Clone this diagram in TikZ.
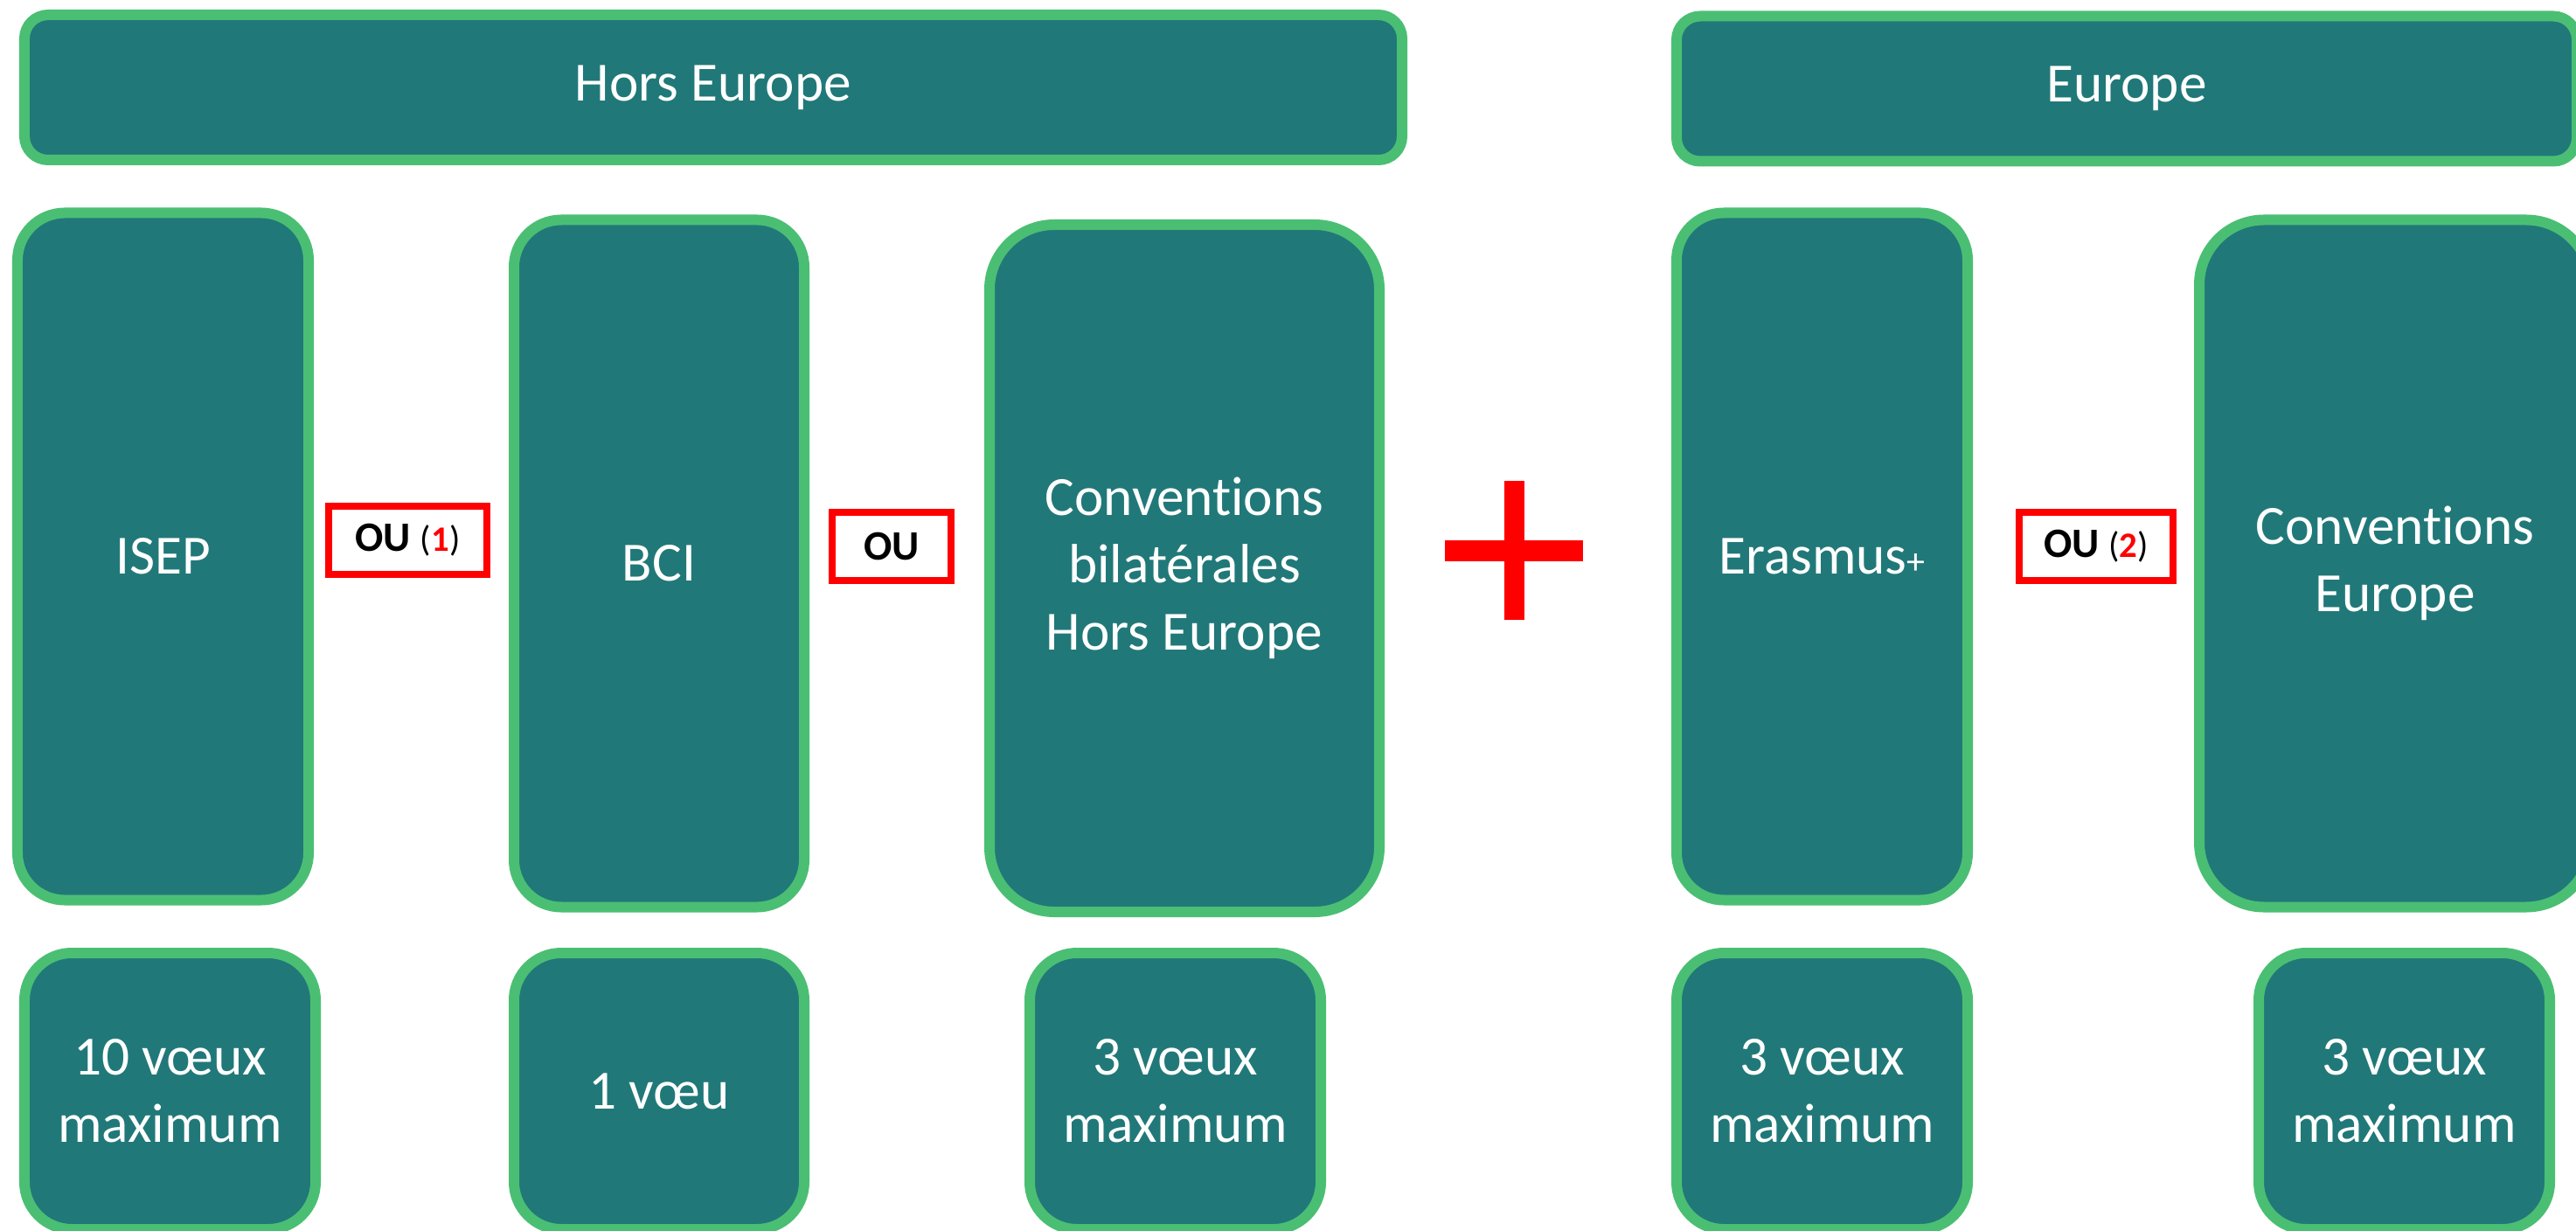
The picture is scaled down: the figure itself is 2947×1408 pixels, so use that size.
\documentclass[tikz,border=0pt]{standalone}
\usepackage{fontspec}
\setmainfont{Carlito}[Ligatures=NoCommon]
\definecolor{boxfill}{HTML}{217879}
\definecolor{boxline}{HTML}{4ABF73}
\definecolor{ored}{HTML}{FF0000}
\begin{document}
\begin{tikzpicture}[x=1bp,y=-1bp,
  box/.style={draw=boxline, line width=12bp, fill=boxfill, text=white, align=center,
    inner sep=0pt, outer sep=0pt, font=\fontsize{63.5}{77}\selectfont},
  headbox/.style={box, minimum height=166bp, rounded corners=27bp},
  tallbox/.style={box, minimum height=786bp, rounded corners=54bp},
  widebox/.style={box, minimum height=786bp, rounded corners=74bp},
  countbox/.style={box, minimum width=333bp, minimum height=316bp, rounded corners=54bp},
  oubox/.style={draw=ored, line width=8bp, fill=white, text=black, inner sep=0pt,
    minimum height=78bp, font=\fontsize{48}{58}\selectfont\bfseries},
 ]
\useasboundingbox (0,0) rectangle (2947,1408);
% headers
\node[headbox, minimum width=1576bp] (hors) at (816,100) {Hors Europe};
\node[headbox, minimum width=1030bp] (europe) at (2433,101.5) {Europe};
% programme boxes
\node[tallbox, minimum width=333bp] (isep) at (186.5,636.5) {ISEP};
\node[tallbox, minimum width=332bp] (bci) at (754,644.5) {BCI};
\node[widebox, minimum width=446bp] (conv) at (1355,650) {Conventions\\bilatérales\\Hors Europe};
\node[tallbox, minimum width=333bp] (erasmus) at (2084.5,636.5) {Erasmus{\fontsize{42}{50}\selectfont+}};
\node[widebox, minimum width=448bp] (conveu) at (2740,644.5) {Conventions\\Europe};
% OU boxes
\node[oubox, minimum width=181bp] (ou1) at (466.5,618) {OU {\fontsize{41}{48}\selectfont\mdseries(\textcolor{ored}{\bfseries 1})}};
\node[oubox, minimum width=136bp] (ou) at (1020,624.5) {OU};
\node[oubox, minimum width=176bp] (ou2) at (2398,624.5) {OU {\fontsize{41}{48}\selectfont\mdseries(\textcolor{ored}{\bfseries 2})}};
% plus sign
\fill[ored] (1721,550) rectangle (1744,709);
\fill[ored] (1653,618) rectangle (1811,642);
% counts
\node[countbox] (c1) at (194.5,1248) {10 vœux\\maximum};
\node[countbox, minimum width=332bp] (c2) at (754,1248) {1 vœu};
\node[countbox] (c3) at (1344.5,1248) {3 vœux\\maximum};
\node[countbox] (c4) at (2084.5,1248) {3 vœux\\maximum};
\node[countbox] (c5) at (2750.5,1248) {3 vœux\\maximum};
\end{tikzpicture}
\end{document}
